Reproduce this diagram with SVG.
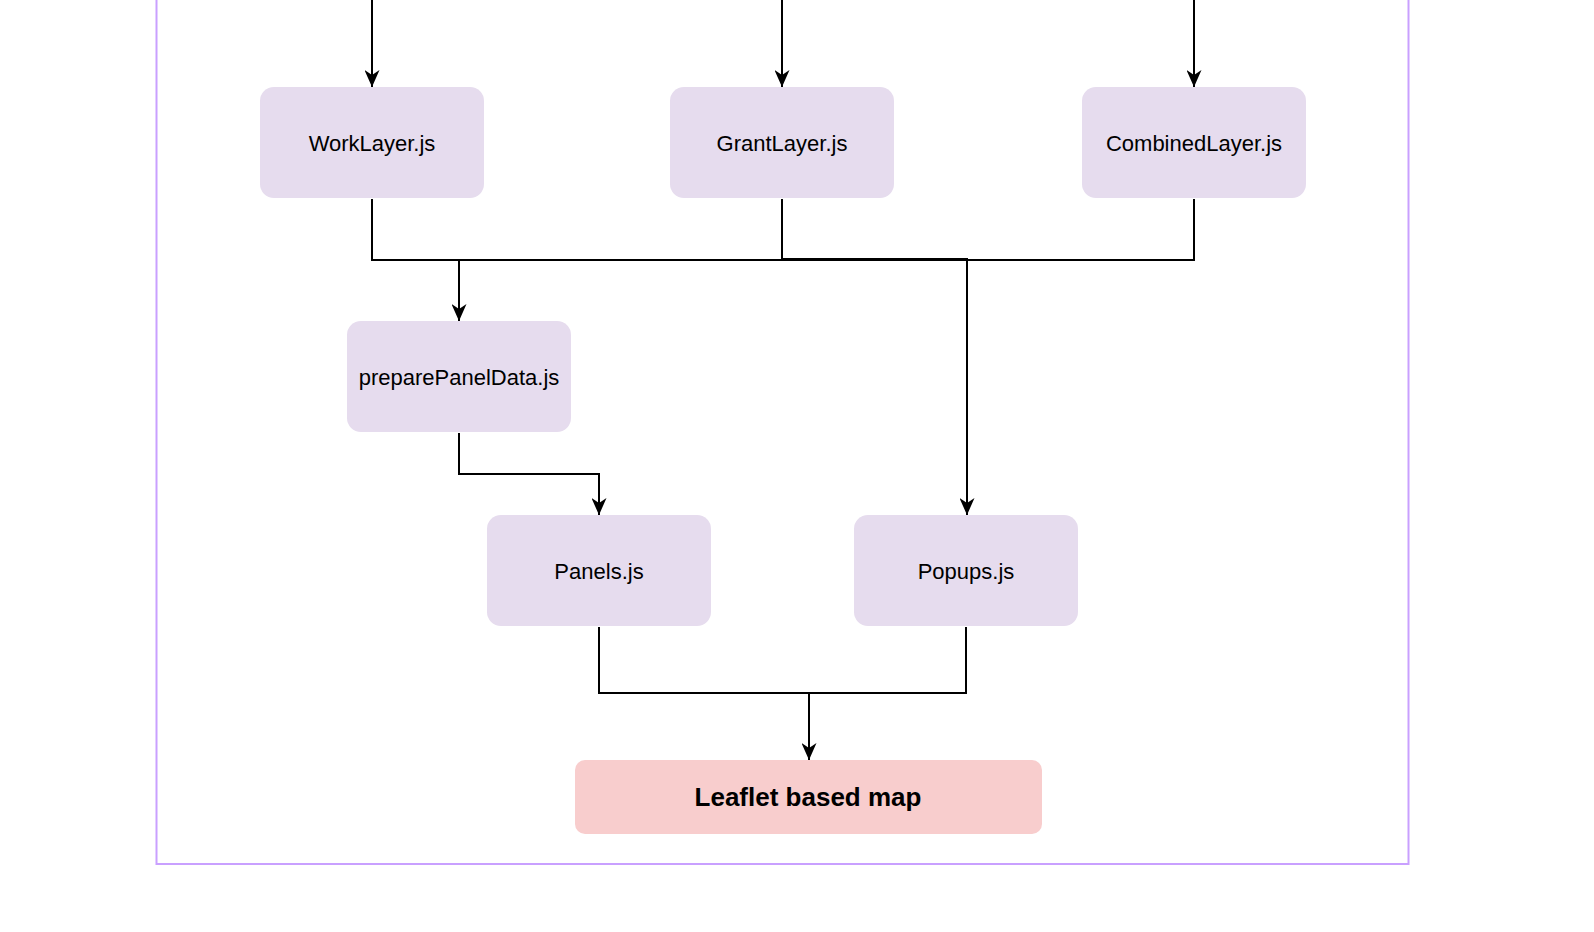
<svg xmlns="http://www.w3.org/2000/svg" width="1594" height="932" viewBox="0 0 1594 932">
<style>
.node{fill:#e6dcee;}
.map{fill:#f8cdcd;}
.lbl{font-family:"Liberation Sans",Arial,sans-serif;font-size:22px;fill:#000;text-anchor:middle;dominant-baseline:central;}
.bold{font-weight:bold;font-size:26px;}
.edge{fill:none;stroke:#000;stroke-width:2;}
</style>
<defs>
<marker id="arr" markerWidth="17" markerHeight="15" refX="17" refY="7.5" viewBox="0 0 17 15" orient="auto" markerUnits="userSpaceOnUse">
<path d="M0,0 L17,7.5 L0,15 L5,7.5 Z" fill="#000"/>
</marker>
</defs>
<rect width="1594" height="932" fill="#fff"/>
<rect x="156.5" y="-10" width="1252" height="874" fill="none" stroke="#c9a0ff" stroke-width="2"/>
<g id="connectors">
<path class="edge" d="M372,0 V87" marker-end="url(#arr)"/>
<path class="edge" d="M782,0 V87" marker-end="url(#arr)"/>
<path class="edge" d="M1194,0 V87" marker-end="url(#arr)"/>
<path class="edge" d="M372,199 V260 H459 V321" marker-end="url(#arr)"/>
<path class="edge" d="M782,199 V260 H459"/>
<path class="edge" d="M1194,199 V260 H459"/>
<path class="edge" d="M782,259 H967 V515" marker-end="url(#arr)"/>
<path class="edge" d="M459,433 V474 H599 V515" marker-end="url(#arr)"/>
<path class="edge" d="M599,627 V693 H809 V760" marker-end="url(#arr)"/>
<path class="edge" d="M966,627 V693 H809"/>
</g>
<g id="worklayer"><rect class="node" x="260" y="87" width="224" height="111" rx="14"/><text class="lbl" x="372" y="143">WorkLayer.js</text></g>
<g id="grantlayer"><rect class="node" x="670" y="87" width="224" height="111" rx="14"/><text class="lbl" x="782" y="143">GrantLayer.js</text></g>
<g id="combinedlayer"><rect class="node" x="1082" y="87" width="224" height="111" rx="14"/><text class="lbl" x="1194" y="143">CombinedLayer.js</text></g>
<g id="preparepaneldata"><rect class="node" x="347" y="321" width="224" height="111" rx="14"/><text class="lbl" x="459" y="377">preparePanelData.js</text></g>
<g id="panels"><rect class="node" x="487" y="515" width="224" height="111" rx="14"/><text class="lbl" x="599" y="571">Panels.js</text></g>
<g id="popups"><rect class="node" x="854" y="515" width="224" height="111" rx="14"/><text class="lbl" x="966" y="571">Popups.js</text></g>
<g id="leaflet"><rect class="map" x="575" y="760" width="467" height="74" rx="10"/><text class="lbl bold" x="808" y="797">Leaflet based map</text></g>
</svg>
